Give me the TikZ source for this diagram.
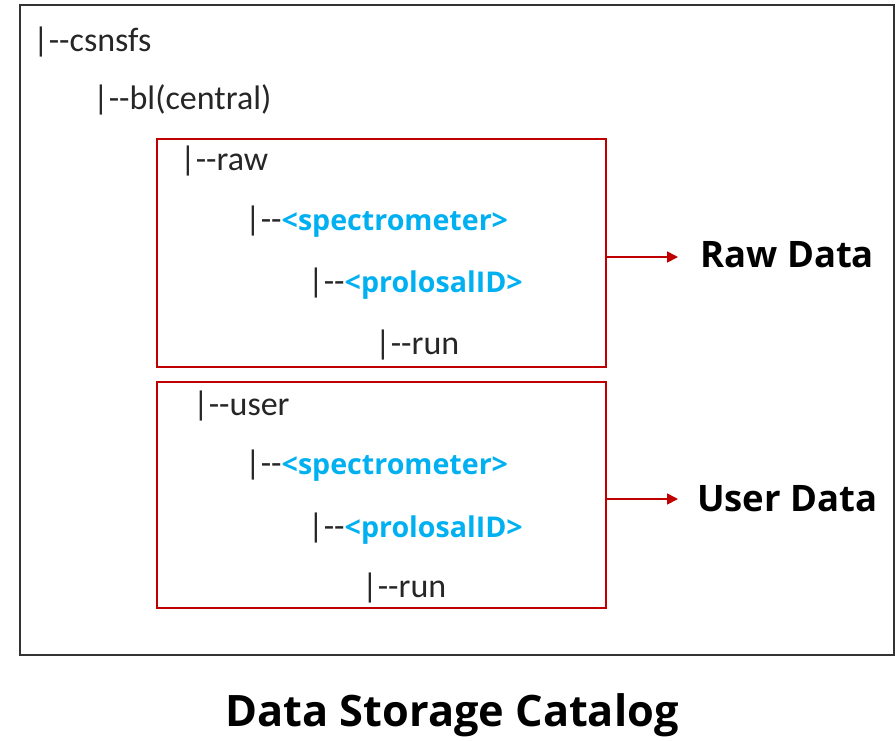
\documentclass[tikz,border=0pt]{standalone}
\usepackage{fontspec}
\setmainfont{Carlito}
\newfontfamily\labelfont{Open Sans}
\usetikzlibrary{arrows.meta}
\definecolor{boxred}{HTML}{C00000}
\definecolor{tagblue}{HTML}{00B0F0}
\tikzset{
  entry/.style={anchor=west, inner sep=0pt, font=\fontsize{34}{36}\selectfont, text=black!85},
  group/.style={draw=boxred, line width=1.6pt},
  pointer/.style={draw=boxred, line width=1.6pt, -{Triangle[length=11pt,width=11pt]}},
  caption/.style={anchor=west, inner sep=0pt, font=\labelfont\bfseries\fontsize{36.5}{40}\selectfont},
}
\newcommand{\branch}{|-{}-}
\newcommand{\tagged}[1]{\textcolor{tagblue}{\labelfont\bfseries\fontsize{28.6}{30}\selectfont #1}}
\begin{document}
\begin{tikzpicture}[x=1pt,y=-1pt]
\useasboundingbox (0,0) rectangle (896,740);
% outer frame
\draw[line width=1.4pt, black!80] (20,5) rectangle (894,655);
% tree
\node[entry] (root) at (33,42) {\branch csnsfs};
\node[entry] (bl) at (93,100) {\branch bl(central)};
% raw branch
\draw[group] (157,139) rectangle (606,367);
\coordinate (rawbox) at (606,257);
\node[entry] (raw) at (180,161) {\branch raw};
\node[entry] (rawspec) at (245,222) {\branch\tagged{<spectrometer>}};
\node[entry] (rawprop) at (308,284) {\branch\tagged{<prolosalID>}};
\node[entry] (rawrun) at (375,345) {\branch run};
% user branch
\draw[group] (157,382) rectangle (606,608);
\coordinate (userbox) at (606,499);
\node[entry] (user) at (193,406) {\branch user};
\node[entry] (userspec) at (245,466) {\branch\tagged{<spectrometer>}};
\node[entry] (userprop) at (308,529) {\branch\tagged{<prolosalID>}};
\node[entry] (userrun) at (362,588) {\branch run};
% labels
\node[caption] (rawlabel) at (700,255) {Raw Data};
\node[caption] (userlabel) at (697,499) {User Data};
\draw[pointer] (rawbox) -- (678,257);
\draw[pointer] (userbox) -- (678,499);
% title
\node[inner sep=0pt, font=\labelfont\bfseries\fontsize{43.3}{46}\selectfont] (title) at (452,715) {Data Storage Catalog};
\end{tikzpicture}
\end{document}
